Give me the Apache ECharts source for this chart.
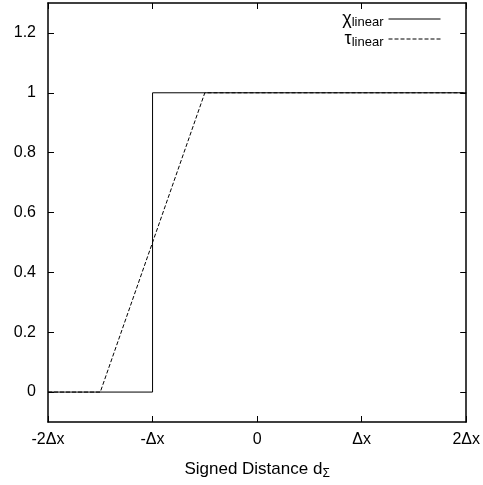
<!DOCTYPE html>
<html><head><meta charset="utf-8">
<script src="https://cdn.jsdelivr.net/npm/echarts@6/dist/echarts.min.js"></script>
<style>html,body{margin:0;padding:0;background:#fff}#c{width:483px;height:485px}</style>
</head><body><div id="c"></div>
<script>
const xTicks = [-2, -1, 0, 1, 2];
const xTickLabels = ['-2\u0394x', '-\u0394x', '0', '\u0394x', '2\u0394x'];
const yTicks = [0, 0.2, 0.4, 0.6, 0.8, 1, 1.2];
const yTickLabels = ['0', '0.2', '0.4', '0.6', '0.8', '1', '1.2'];
const chiX = [-2, -1, -1, 2];
const chiY = [0, 0, 1, 1];
const tauX = [-2, -1.5, -0.5, 2];
const tauY = [0, 0, 1, 1];

const font = 'Liberation Sans, Arial, sans-serif';
const chart = echarts.init(document.getElementById('c'));
const zip = (a, b) => a.map((v, i) => [v, b[i]]);
const xLab = v => { const i = xTicks.indexOf(v); return i >= 0 ? xTickLabels[i] : ''; };
const yLab = v => { const i = yTicks.findIndex(t => Math.abs(t - v) < 1e-9); return i >= 0 ? yTickLabels[i] : ''; };
const axisLine = {show: true, onZero: false, lineStyle: {color: '#000', width: 1.5}};
const tick = {show: true, inside: true, length: 6, lineStyle: {color: '#000', width: 1}};

chart.setOption({
  animation: false,
  grid: {left: 48, right: 15, top: 3, bottom: 62},
  legend: {
    show: true, right: 37, top: 4, orient: 'vertical', align: 'right',
    itemWidth: 52, itemHeight: 10, itemGap: 0,
    itemStyle: {opacity: 0},
    lineStyle: {width: 1},
    textStyle: {fontFamily: font, fontSize: 18, color: '#000', lineHeight: 19,
      rich: {m: {fontSize: 18, fontFamily: font, color: '#000', lineHeight: 19},
             s: {fontSize: 13, fontFamily: font, color: '#000', lineHeight: 19, padding: [7, 0, 0, 0]}}},
    formatter: n => n === 'chi' ? '{m|\u03C7}{s|linear}' : '{m|\u03C4}{s|linear}',
    data: ['chi', 'tau']
  },
  xAxis: [{
    type: 'value', min: -2, max: 2, interval: 1, position: 'bottom',
    axisLine: axisLine, axisTick: tick, splitLine: {show: false},
    axisLabel: {formatter: xLab, margin: 10, fontFamily: font, fontSize: 16, color: '#000'},
    name: 'Signed Distance d{s|\u03A3}', nameLocation: 'middle', nameGap: 37,
    nameTextStyle: {fontFamily: font, fontSize: 17, color: '#000',
      rich: {s: {fontSize: 12, fontFamily: font, color: '#000', padding: [9, 0, 0, 0]}}}
  }, {
    type: 'value', min: -2, max: 2, interval: 1, position: 'top',
    axisLine: axisLine, axisTick: tick, splitLine: {show: false}, axisLabel: {show: false}
  }],
  yAxis: [{
    type: 'value', min: -0.1, max: 1.3, position: 'left',
    axisLine: axisLine, splitLine: {show: false},
    axisTick: Object.assign({}, tick, {customValues: yTicks}),
    axisLabel: {customValues: yTicks, formatter: yLab, margin: 12, fontFamily: font, fontSize: 16, color: '#000'}
  }, {
    type: 'value', min: -0.1, max: 1.3, position: 'right',
    axisLine: axisLine, splitLine: {show: false},
    axisTick: Object.assign({}, tick, {customValues: yTicks}),
    axisLabel: {show: false}
  }],
  series: [{
    name: 'chi', type: 'line', data: zip(chiX, chiY), showSymbol: false, symbol: 'none',
    lineStyle: {color: '#000', width: 1, type: 'solid'}, itemStyle: {color: '#000'}
  }, {
    name: 'tau', type: 'line', data: zip(tauX, tauY), showSymbol: false, symbol: 'none',
    lineStyle: {color: '#000', width: 1, type: [4, 2]}, itemStyle: {color: '#000'}
  }]
});
</script></body></html>
